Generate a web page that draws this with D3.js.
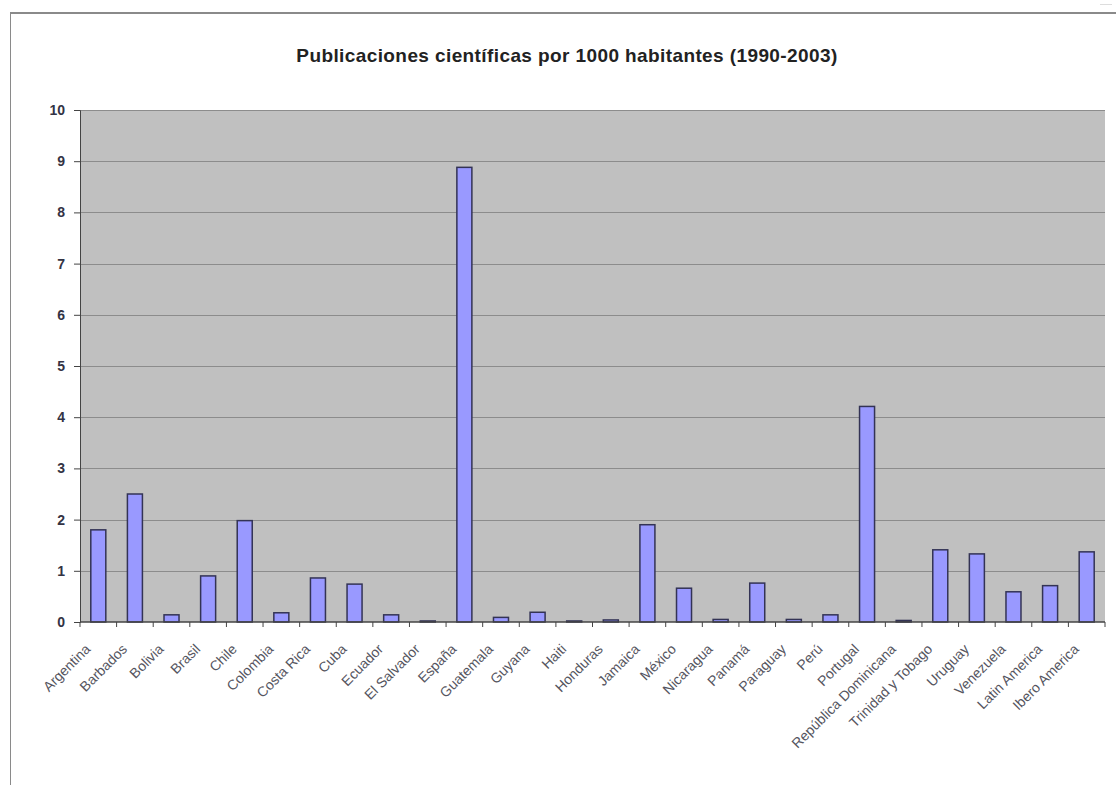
<!DOCTYPE html>
<html>
<head>
<meta charset="utf-8">
<script src="https://cdn.jsdelivr.net/npm/d3@7"></script>
<style>
	body { margin: 0; background: #fff; }
	svg { font-family: "Liberation Sans", Arial, sans-serif; }
</style>
</head>
<body>
<div id="chart"></div>
<script>
'use strict';

var categories = ['Argentina', 'Barbados', 'Bolivia', 'Brasil', 'Chile', 'Colombia', 'Costa Rica', 'Cuba',
	'Ecuador', 'El Salvador', 'España', 'Guatemala', 'Guyana', 'Haiti', 'Honduras', 'Jamaica', 'México',
	'Nicaragua', 'Panamá', 'Paraguay', 'Perú', 'Portugal', 'República Dominicana', 'Trinidad y Tobago',
	'Uruguay', 'Venezuela', 'Latin America', 'Ibero America'];
var values = [1.8, 2.5, 0.14, 0.9, 1.98, 0.18, 0.86, 0.74,
	0.14, 0.02, 8.88, 0.09, 0.19, 0.02, 0.04, 1.9, 0.66,
	0.05, 0.76, 0.05, 0.14, 4.21, 0.03, 1.41,
	1.33, 0.59, 0.71, 1.37];
var yTicks = [0, 1, 2, 3, 4, 5, 6, 7, 8, 9, 10];
var title = 'Publicaciones científicas por 1000 habitantes (1990-2003)';

var W = 1116, H = 785;
var PLOT_BG = '#c0c0c0';
var GRID = '#8c8c8c';
var BAR_FILL = '#9999ff';
var BAR_STROKE = '#333355';

var margin = { left: 80, right: 11, top: 110, bottom: 163 };

var svg = d3.select('#chart').append('svg')
	.attr('width', W)
	.attr('height', H);

// screenshot frame
svg.append('line')
	.attr('x1', 10).attr('x2', W).attr('y1', 13).attr('y2', 13)
	.style('stroke', '#8a8a8a').style('stroke-width', 2);
svg.append('line')
	.attr('x1', 10.5).attr('x2', 10.5).attr('y1', 13).attr('y2', H)
	.style('stroke', '#8a8a8a').style('stroke-width', 1);
svg.append('line')
	.attr('x1', 1100).attr('x2', 1112).attr('y1', 4.5).attr('y2', 4.5)
	.style('stroke', '#dddddd').style('stroke-width', 1);

svg.append('text')
	.attr('x', 567)
	.attr('y', 62)
	.attr('text-anchor', 'middle')
	.style('font-size', '19px')
	.style('font-weight', 'bold')
	.style('letter-spacing', '0.4px')
	.style('fill', '#222')
	.text(title);

var x = d3.scaleBand()
	.domain(categories)
	.range([margin.left, W - margin.right])
	.paddingInner(0.59)
	.paddingOuter(0.295);

var y = d3.scaleLinear()
	.domain([0, 10])
	.range([H - margin.bottom, margin.top]);

svg.append('rect')
	.attr('x', margin.left)
	.attr('y', margin.top)
	.attr('width', W - margin.right - margin.left)
	.attr('height', H - margin.bottom - margin.top)
	.style('fill', PLOT_BG);

svg.append('g')
	.selectAll('line')
	.data(yTicks.slice(1))
	.enter().append('line')
	.attr('x1', margin.left)
	.attr('x2', W - margin.right)
	.attr('y1', function(d) { return Math.round(y(d)) + 0.5; })
	.attr('y2', function(d) { return Math.round(y(d)) + 0.5; })
	.style('stroke', GRID)
	.style('stroke-width', 1);

svg.append('g')
	.selectAll('rect')
	.data(values)
	.enter().append('rect')
	.attr('x', function(d, i) { return x(categories[i]); })
	.attr('y', function(d) { return y(d); })
	.attr('width', x.bandwidth())
	.attr('height', function(d) { return y(0) - y(d); })
	.style('fill', BAR_FILL)
	.style('stroke', BAR_STROKE)
	.style('stroke-width', 1.5);

// y axis
var yAxis = svg.append('g')
	.attr('transform', 'translate(' + margin.left + ',0)')
	.call(d3.axisLeft(y).tickValues(yTicks).tickSize(6).tickPadding(9));
yAxis.selectAll('text')
	.style('font-size', '14px')
	.style('font-weight', 'bold')
	.style('fill', '#333344');
yAxis.selectAll('line, path').style('stroke', '#444');

// x axis: ticks at category boundaries
var step = x.step();
var boundaries = d3.range(categories.length + 1).map(function(i) {
	return margin.left + i * step;
});
var xAxis = svg.append('g')
	.attr('transform', 'translate(0,' + y(0) + ')');
xAxis.append('line')
	.attr('x1', margin.left).attr('x2', W - margin.right)
	.attr('y1', 0).attr('y2', 0)
	.style('stroke', '#444').style('stroke-width', 1.5);
xAxis.selectAll('.tick-mark')
	.data(boundaries)
	.enter().append('line')
	.attr('class', 'tick-mark')
	.attr('x1', function(d) { return d; })
	.attr('x2', function(d) { return d; })
	.attr('y1', 0).attr('y2', 5)
	.style('stroke', '#444');

xAxis.selectAll('.cat-label')
	.data(categories)
	.enter().append('text')
	.attr('class', 'cat-label')
	.attr('text-anchor', 'end')
	.attr('transform', function(d) {
		return 'translate(' + (x(d) + x.bandwidth() / 2 - 7) + ',28) rotate(-45)';
	})
	.style('font-size', '14px')
	.style('fill', '#555560')
	.text(function(d) { return d; });
</script>
</body>
</html>
